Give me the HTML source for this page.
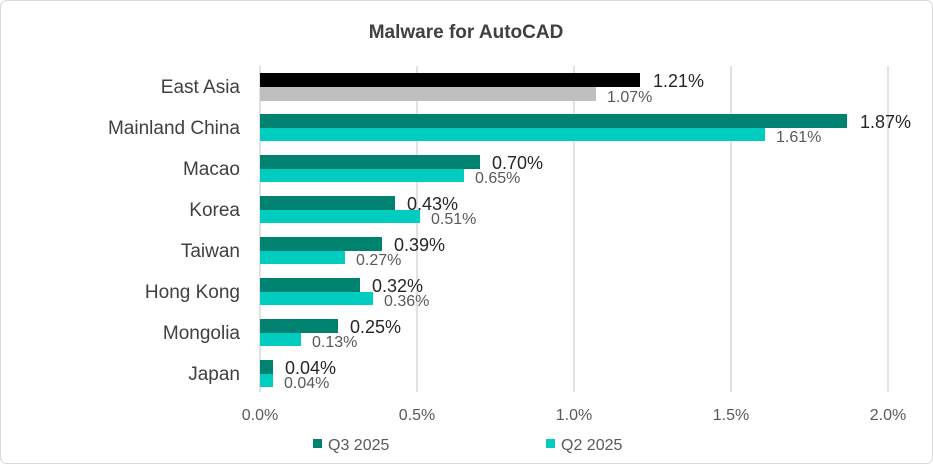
<!DOCTYPE html><html><head><style>
body{margin:0;background:#fff;font-family:"Liberation Sans",sans-serif;}
</style></head><body>
<svg width="933" height="464" xmlns="http://www.w3.org/2000/svg" font-family="Liberation Sans, sans-serif">
<rect x="0.5" y="0.5" width="932" height="463" rx="6" fill="#fff" stroke="#d9d9d9"/>
<text x="466" y="38" text-anchor="middle" font-size="19" font-weight="bold" fill="#404040">Malware for AutoCAD</text>
<g stroke="#d9d9d9" stroke-width="1.5">
<line x1="260" y1="66" x2="260" y2="392"/><line x1="417" y1="66" x2="417" y2="392"/><line x1="574" y1="66" x2="574" y2="392"/><line x1="731" y1="66" x2="731" y2="392"/><line x1="888" y1="66" x2="888" y2="392"/>
</g>
<g font-size="16" fill="#595959" text-anchor="middle">
<text x="260" y="420">0.0%</text><text x="417" y="420">0.5%</text><text x="574" y="420">1.0%</text><text x="731" y="420">1.5%</text><text x="888" y="420">2.0%</text>
</g>
<g font-size="19" fill="#404040" text-anchor="end">
<text x="240" y="93">East Asia</text><text x="240" y="134">Mainland China</text><text x="240" y="175">Macao</text><text x="240" y="216">Korea</text><text x="240" y="257">Taiwan</text><text x="240" y="298">Hong Kong</text><text x="240" y="339">Mongolia</text><text x="240" y="380">Japan</text>
</g>
<rect x="260" y="73" width="380" height="14" fill="#000"/>
<rect x="260" y="87" width="336" height="14" fill="#bfbfbf"/>
<g fill="#008270">
<rect x="260" y="114" width="587" height="14"/><rect x="260" y="155" width="220" height="14"/><rect x="260" y="196" width="135" height="14"/><rect x="260" y="237" width="122" height="14"/><rect x="260" y="278" width="100" height="14"/><rect x="260" y="319" width="78" height="14"/><rect x="260" y="360" width="13" height="14"/>
</g>
<g fill="#00ccbf">
<rect x="260" y="128" width="505" height="13"/><rect x="260" y="169" width="204" height="13"/><rect x="260" y="210" width="160" height="13"/><rect x="260" y="251" width="85" height="13"/><rect x="260" y="292" width="113" height="13"/><rect x="260" y="333" width="41" height="13"/><rect x="260" y="374" width="13" height="13"/>
</g>
<g font-size="18" fill="#262626">
<text x="653" y="87">1.21%</text><text x="860" y="128">1.87%</text><text x="492" y="169">0.70%</text><text x="407" y="210">0.43%</text><text x="394" y="251">0.39%</text><text x="372" y="292">0.32%</text><text x="350" y="333">0.25%</text><text x="285" y="374">0.04%</text>
</g>
<g font-size="16" fill="#595959">
<text x="607" y="102">1.07%</text><text x="776" y="142">1.61%</text><text x="475" y="183">0.65%</text><text x="431" y="224">0.51%</text><text x="356" y="265">0.27%</text><text x="384" y="306">0.36%</text><text x="312" y="347">0.13%</text><text x="284" y="388">0.04%</text>
</g>
<rect x="313" y="439" width="9" height="9" fill="#008270"/>
<text x="328" y="450" font-size="16" fill="#595959">Q3 2025</text>
<rect x="546" y="439" width="9" height="9" fill="#00ccbf"/>
<text x="561" y="450" font-size="16" fill="#595959">Q2 2025</text>
</svg>
</body></html>
